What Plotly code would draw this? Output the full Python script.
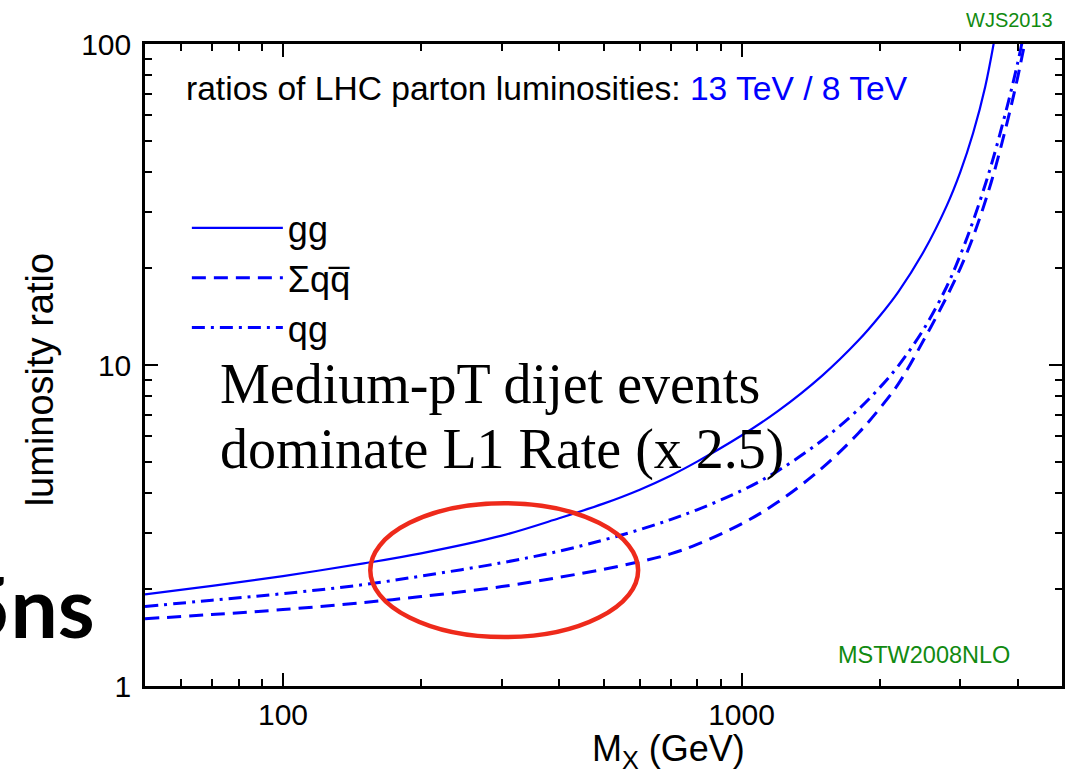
import numpy as np
import plotly.graph_objects as go

# ---------------- data ----------------
gg_mass = [50, 70, 100, 150, 200, 300, 400, 500, 600, 700, 800, 1000, 1200,
           1500, 1800, 2000, 2200, 2500, 2800, 3000, 3200, 3400, 3600]
gg_ratio = [1.93, 2.05, 2.20, 2.41, 2.59, 2.94, 3.33, 3.70, 4.09, 4.52, 5.00,
            6.03, 7.18, 9.27, 11.94, 14.19, 16.94, 22.65, 31.26, 39.9, 52.8, 73.6, 112.7]

qq_mass = [50, 70, 100, 150, 200, 300, 400, 500, 600, 700, 800, 1000, 1200,
           1500, 1800, 2000, 2200, 2500, 2800, 3000, 3200, 3500, 3800, 4000, 4100, 4200]
qq_ratio = [1.62, 1.67, 1.73, 1.82, 1.90, 2.04, 2.18, 2.31, 2.44, 2.58, 2.76,
            3.20, 3.74, 4.78, 6.14, 7.31, 8.75, 12.0, 16.27, 20.01, 25.07, 36.9, 57.3,
            78.4, 92.9, 109.6]

qg_mass = [50, 70, 100, 150, 200, 300, 400, 500, 600, 700, 800, 1000, 1200,
           1500, 1800, 2000, 2200, 2500, 2800, 3000, 3200, 3500, 3800, 4000, 4100]
qg_ratio = [1.77, 1.85, 1.94, 2.07, 2.20, 2.42, 2.63, 2.85, 3.07, 3.30, 3.54,
            4.06, 4.68, 5.83, 7.28, 8.49, 9.96, 12.98, 17.50, 21.99, 28.09, 41.7, 64.2,
            87.0, 102.8]

series_names = ["gg", "Σqq\u0305", "qg"]

x_tickvals = [100, 1000]
x_ticktext = ["100", "1000"]
x_minor = [60, 70, 80, 90, 200, 300, 400, 500, 600, 700, 800, 900, 2000, 3000, 4000]
y_tickvals = [1, 10, 100]
y_ticktext = ["1", "10", "100"]
y_minor = [2, 3, 4, 5, 6, 7, 8, 9, 20, 30, 40, 50, 60, 70, 80, 90]
x_range = [50, 5000]
y_range = [1, 100]

# highlighted region (red ellipse): mass range and ratio range
ellipse_mass = [155, 595]
ellipse_ratio = [1.42, 3.71]

# ---------------- figure ----------------
W, H = 1068, 777
L, R, T, B = 145, 3, 44, 91
PW, PH = W - L - R, H - T - B

def px(xp):
    return (xp - L) / PW

def py(yp):
    return 1 - (yp - T) / PH

BLUE = "#0000ff"
GREEN = "#118a11"
SANS = "Liberation Sans, Arial, Helvetica, sans-serif"
SERIF = "Liberation Serif, Times New Roman, serif"

fig = go.Figure()
fig.add_trace(go.Scatter(x=gg_mass, y=gg_ratio, mode="lines", name=series_names[0],
                         line=dict(color=BLUE, width=2.2, shape="spline", smoothing=1)))
fig.add_trace(go.Scatter(x=qq_mass, y=qq_ratio, mode="lines", name=series_names[1],
                         line=dict(color=BLUE, width=3, dash="14px,8px", shape="spline", smoothing=1)))
fig.add_trace(go.Scatter(x=qg_mass, y=qg_ratio, mode="lines", name=series_names[2],
                         line=dict(color=BLUE, width=3, dash="13px,6px,3px,6px", shape="spline", smoothing=1)))

axis_common = dict(
    type="log", showgrid=False, zeroline=False,
    showline=True, linecolor="black", linewidth=2.5, mirror="ticks",
    ticks="inside", ticklen=13, tickwidth=2, tickcolor="black",
    tickfont=dict(family=SANS, size=30, color="black"),
)

fig.update_layout(
    width=W, height=H,
    margin=dict(l=L, r=R, t=T, b=B, pad=0),
    paper_bgcolor="white", plot_bgcolor="white",
    showlegend=True,
    legend=dict(x=px(187), y=py(198), xanchor="left", yanchor="top",
                bgcolor="rgba(0,0,0,0)", borderwidth=0,
                font=dict(family=SANS, size=36, color="black"),
                itemwidth=91, tracegroupgap=0),
    xaxis=dict(range=list(np.log10(x_range)), tickvals=x_tickvals, ticktext=x_ticktext,
               ticklabelstandoff=0,
               minor=dict(tickmode="array", tickvals=x_minor, ticks="inside", ticklen=7,
                          tickwidth=2, tickcolor="black", showgrid=False),
               **axis_common),
    yaxis=dict(range=list(np.log10(y_range)), tickvals=y_tickvals, ticktext=y_ticktext,
               ticklabelstandoff=5,
               minor=dict(tickmode="array", tickvals=y_minor, ticks="inside", ticklen=7,
                          tickwidth=2, tickcolor="black", showgrid=False),
               **axis_common),
)

fig.add_shape(type="circle", xref="x", yref="y",
              x0=ellipse_mass[0], x1=ellipse_mass[1],
              y0=ellipse_ratio[0], y1=ellipse_ratio[1],
              line=dict(color="#ee2a1b", width=4.5))

ann = []
ann.append(dict(text="ratios of LHC parton luminosities: <span style='color:#0000ff'>13 TeV / 8 TeV</span>",
                x=px(184), y=py(88), xanchor="left", yanchor="middle",
                font=dict(family=SANS, size=33.6, color="black")))
ann.append(dict(text="Medium-pT dijet events", x=px(218), y=py(384), xanchor="left",
                yanchor="middle", font=dict(family=SERIF, size=56, color="black")))
ann.append(dict(text="dominate L1 Rate (x 2.5)", x=px(218), y=py(449), xanchor="left",
                yanchor="middle", font=dict(family=SERIF, size=56, color="black")))
ann.append(dict(text="WJS2013", x=px(1058), y=py(20), xanchor="right", yanchor="middle",
                font=dict(family=SANS, size=20, color=GREEN)))
ann.append(dict(text="MSTW2008NLO", x=px(1015), y=py(655), xanchor="right", yanchor="middle",
                font=dict(family=SANS, size=23.5, color=GREEN)))
ann.append(dict(text="M<sub>X</sub> (GeV)", x=px(670), y=py(751), xanchor="center", yanchor="middle",
                font=dict(family=SANS, size=36, color="black")))
ann.append(dict(text="luminosity ratio", x=px(40), y=py(380), xanchor="center", yanchor="middle",
                textangle=-90, font=dict(family=SANS, size=38, color="black")))
ann.append(dict(text="25ns", x=px(97), y=py(605), xanchor="right", yanchor="middle",
                font=dict(family="Lato, Open Sans, sans-serif", size=84, weight="bold",
                          color="black")))
for a in ann:
    a.update(xref="paper", yref="paper", showarrow=False)
fig.update_layout(annotations=ann)

fig.write_html("out.html", config={"displayModeBar": False},
               post_script="document.body.style.margin='0px';")
